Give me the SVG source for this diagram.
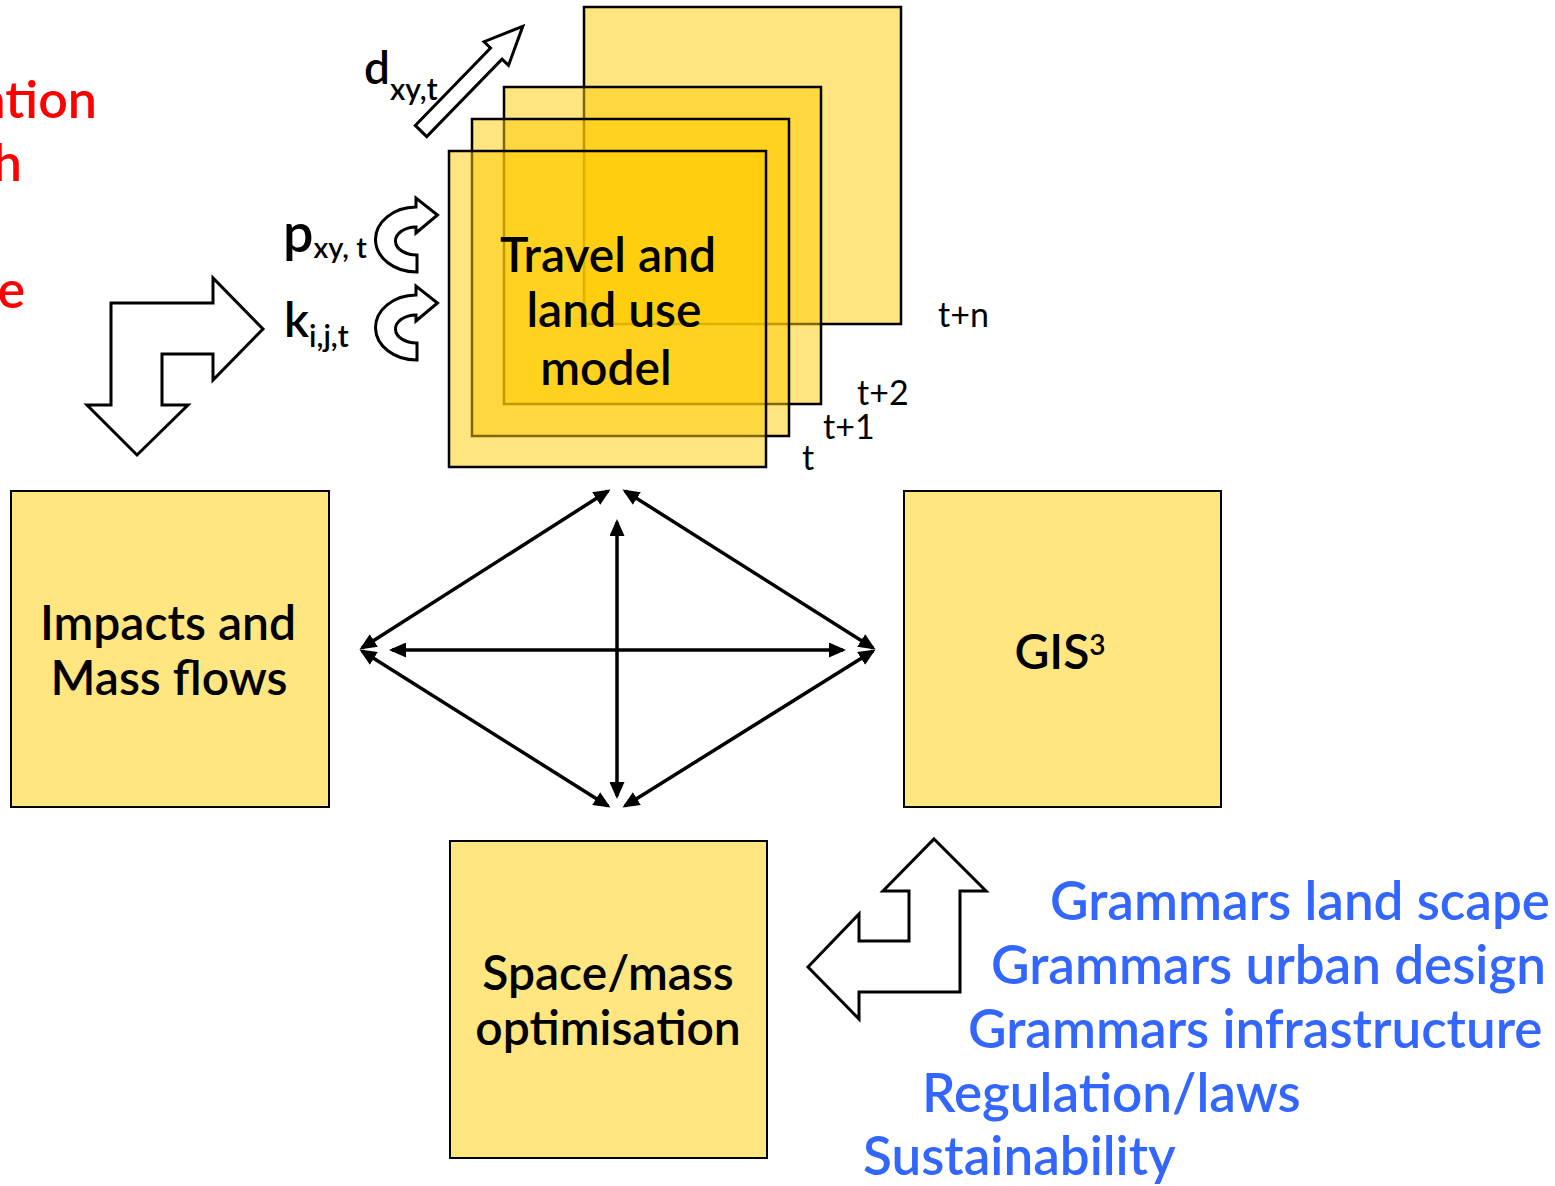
<svg xmlns="http://www.w3.org/2000/svg" width="1555" height="1186" viewBox="0 0 1555 1186">
<defs>
<style>
.box{fill:#FFE680;stroke:#000;stroke-width:2}
.layer{fill:#FFCC00;fill-opacity:0.5;stroke:#000;stroke-width:2.5}
.lbl{font-family:Lato,"Noto Sans",sans-serif;font-weight:600;fill:#000;text-anchor:middle;font-size:48px}
.tl{font-family:Lato,"Noto Sans",sans-serif;font-weight:400;fill:#000;font-size:34px}
.red{font-family:Lato,"Noto Sans",sans-serif;font-weight:600;fill:#FF0000;font-size:52px;text-anchor:end}
.blue{font-family:Lato,"Noto Sans",sans-serif;font-weight:600;fill:#3366FF;font-size:53px}
.sym{font-family:Lato,"Noto Sans",sans-serif;font-weight:600;fill:#000}
.blk{fill:#fff;stroke:#000;stroke-width:3;stroke-linejoin:miter}
.con{stroke:#000;stroke-width:3.5;fill:none;marker-start:url(#ah);marker-end:url(#ah)}
</style>
<marker id="ah" markerUnits="userSpaceOnUse" markerWidth="17" markerHeight="15" refX="14" refY="7.5" orient="auto-start-reverse" viewBox="0 0 17 15">
<path d="M0,0 L17,7.5 L0,15 Z" fill="#000"/>
</marker>
</defs>

<g id="red-text">
<text class="red" x="97" y="118">ation</text>
<text class="red" x="22" y="181">h</text>
<text class="red" x="25" y="308">e</text>
</g>

<g id="travel-land-use-model">
<rect class="layer" x="584" y="7" width="317" height="317"/>
<rect class="layer" x="504" y="87" width="317" height="317"/>
<rect class="layer" x="472" y="119" width="317" height="317"/>
<rect class="layer" x="449" y="151" width="317" height="316"/>
<text class="lbl" x="608" y="272">Travel and</text>
<text class="lbl" x="614" y="327">land use</text>
<text class="lbl" x="606" y="385">model</text>
<text class="tl" x="938" y="327">t+n</text>
<text class="tl" x="857" y="405">t+2</text>
<text class="tl" x="823" y="439">t+1</text>
<text class="tl" x="802" y="470">t</text>
</g>

<g id="impacts">
<rect class="box" x="11" y="491" width="318" height="316"/>
<text class="lbl" x="168" y="640">Impacts and</text>
<text class="lbl" x="169" y="695">Mass flows</text>
</g>

<g id="gis">
<rect class="box" x="904" y="491" width="317" height="316"/>
<text class="lbl" x="1060" y="669">GIS<tspan font-size="28" dy="-14">3</tspan></text>
</g>

<g id="space-mass">
<rect class="box" x="450" y="841" width="317" height="317"/>
<text class="lbl" x="608" y="990">Space/mass</text>
<text class="lbl" x="608" y="1045">optimisation</text>
</g>

<g id="inputs">
<text class="sym" font-size="46" x="364" y="84">d<tspan font-size="30" dy="16">xy,t</tspan></text>
<polygon class="blk" transform="translate(421,131) rotate(-45.8)" points="0,-8 108,-8 108,-17 146,0 108,17 108,8 0,8"/>
<text class="sym" font-size="54" x="283" y="252">p<tspan font-size="29" dy="6">xy, t</tspan></text>
<path class="blk" d="M417,272 A41,32.5 0 0 1 416,207 L416,198 L437.5,215 L416,233 L416,227 A21,14 0 0 0 417,255 Z"/>
<text class="sym" font-size="48" x="284" y="337">k<tspan font-size="30" dy="10">i,j,t</tspan></text>
<path class="blk" d="M417,360 A41,32.5 0 0 1 416,295 L416,286 L437.5,303 L416,321 L416,315 A21,14 0 0 0 417,343 Z"/>
</g>

<g id="block-arrows">
<polygon class="blk" points="111,303 213,303 213,278 263,329 213,380 213,354 162,354 162,405 188,405 137,455 87,405 111,405"/>
<polygon class="blk" points="934,839 986,891 960,891 960,992 859,992 859,1019 808,967 859,914 859,941 909,941 909,891 883,891"/>
</g>

<g id="grammars">
<text class="blue" x="1050" y="920">Grammars land scape</text>
<text class="blue" x="991" y="984">Grammars urban design</text>
<text class="blue" x="968" y="1048">Grammars infrastructure</text>
<text class="blue" x="922" y="1112">Regulation/laws</text>
<text class="blue" x="863" y="1175">Sustainability</text>
</g>

<g id="connectors">
<line class="con" x1="362" y1="648" x2="608" y2="491"/>
<line class="con" x1="625" y1="491" x2="873" y2="648"/>
<line class="con" x1="362" y1="651" x2="608" y2="806"/>
<line class="con" x1="625" y1="806" x2="873" y2="651"/>
<line class="con" x1="617" y1="522" x2="617" y2="796"/>
<line class="con" x1="392" y1="650" x2="843" y2="650"/>
</g>
</svg>
